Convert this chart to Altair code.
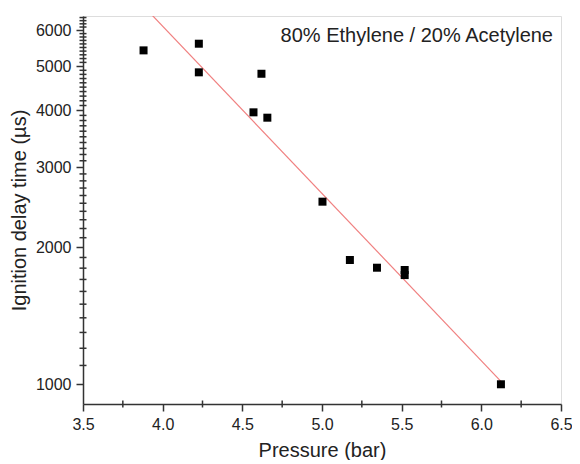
import altair as alt
import pandas as pd

# Data
pressure = [3.88, 4.227, 4.227, 4.62, 4.57, 4.657, 5.003, 5.175, 5.345, 5.519, 5.519, 6.123]
delay = [5420, 5606, 4850, 4815, 3961, 3855, 2520, 1876, 1804, 1783, 1738, 1000]

fit_pressure = [3.88, 6.123]
fit_delay = [6779, 1015]

y_major = [1000, 2000, 3000, 4000, 5000, 6000]
y_minor = [v for v in range(1000, 6500, 100) if v % 1000 != 0]
x_major = [3.5, 4.0, 4.5, 5.0, 5.5, 6.0, 6.5]
x_minor = [3.75, 4.25, 4.75, 5.25, 5.75, 6.25]

annotation = "80% Ethylene / 20% Acetylene"

FONT = "Liberation Sans"
TXT = "#222222"
AX = "#333333"

W, H = 478, 388

pts = pd.DataFrame({"p": pressure, "t": delay})
fit = pd.DataFrame({"p": fit_pressure, "t": fit_delay})

xscale = alt.Scale(domain=[3.5, 6.5], nice=False, zero=False)
yscale = alt.Scale(type="log", domain=[905, 6450], nice=False)

xaxis = alt.Axis(
    title="Pressure (bar)", values=x_major, format=".1f",
    ticks=True, tickSize=7, tickWidth=1.5, tickColor=AX,
    grid=False, domainColor=AX, domainWidth=1.5, labelColor=TXT, titleColor=TXT,
    labelFont=FONT, titleFont=FONT, labelFontSize=16, titleFontSize=20,
    titleFontWeight="normal", labelPadding=5, titlePadding=8, labelFlush=False,
)
yaxis = alt.Axis(
    title="Ignition delay time (µs)", values=y_major, format="d",
    ticks=True, tickSize=7, tickWidth=1.5, tickColor=AX,
    grid=False, domainColor=AX, domainWidth=1.5, labelColor=TXT, titleColor=TXT,
    labelFont=FONT, titleFont=FONT, labelFontSize=16, titleFontSize=20,
    titleFontWeight="normal", labelPadding=5, titlePadding=6, labelOverlap=False,
    labelFlush=False,
)

line = alt.Chart(fit).mark_line(color="#f08080", strokeWidth=1.2, clip=True).encode(
    x=alt.X("p:Q", scale=xscale, axis=xaxis),
    y=alt.Y("t:Q", scale=yscale, axis=yaxis),
)

points = alt.Chart(pts).mark_point(shape="square", filled=True, size=64, color="black", opacity=1).encode(
    x=alt.X("p:Q", scale=xscale),
    y=alt.Y("t:Q", scale=yscale),
)

# minor ticks drawn from the tick lists through the scales, straddling the axis line
ymin = alt.Chart(pd.DataFrame({"t": y_minor})).mark_tick(
    color=AX, thickness=1.5, size=7, opacity=1
).encode(y=alt.Y("t:Q", scale=yscale), x=alt.value(0))
xmin = alt.Chart(pd.DataFrame({"p": x_minor})).mark_tick(
    color=AX, thickness=1.5, size=7, opacity=1
).encode(x=alt.X("p:Q", scale=xscale), y=alt.value(H))

label = alt.Chart(pd.DataFrame({"text": [annotation]})).mark_text(
    align="right", baseline="alphabetic", font=FONT, fontSize=20, color=TXT
).encode(x=alt.value(W - 8), y=alt.value(26), text="text:N")

chart = alt.layer(line, points, label, ymin, xmin).properties(
    width=W, height=H,
    autosize=alt.AutoSizeParams(type="none"),
    padding={"left": 75, "top": 8, "right": 11, "bottom": 56},
).configure_view(stroke=AX, strokeWidth=1.5).configure(background="white")

chart.save("out.html", embed_options={"renderer": "svg", "actions": False})
